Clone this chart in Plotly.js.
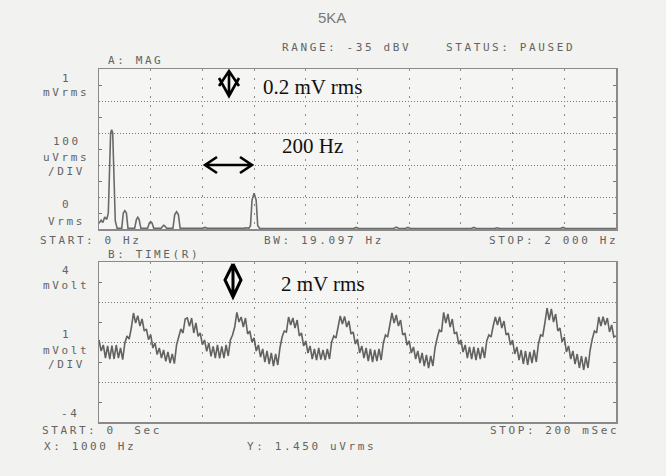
<!DOCTYPE html>
<html><head><meta charset="utf-8">
<script src="https://cdn.plot.ly/plotly-3.0.1.min.js"></script>
<style>
html,body{margin:0;padding:0;background:#f2f2f0;}
#chart{width:666px;height:476px;}
.annotation-text[style*="Mono"]{letter-spacing:2.6px;}
</style></head><body><div id="chart"></div>
<script>
// ---- Spectrum (A: MAG), 0..2000 Hz, mVrms ----
const FREQ_HZ = [0,8,15,22,30,36,45,49,53,63,70,88,94,100,106,112,138,145,150,155,162,188,195,200,205,212,240,246,250,254,262,286,293,300,307,314,400,410,420,560,570,580,586,592,600,608,614,622,985,995,1005,1140,1150,1160,1185,1195,1205,1440,1450,1460,1530,1540,1550,1785,1795,1805,2000];
const MAG_MVRMS = [0.035,0.055,0.040,0.075,0.06,0.10,0.60,0.62,0.60,0.05,0.005,0.005,0.10,0.115,0.10,0.005,0.005,0.06,0.073,0.06,0.005,0.005,0.038,0.046,0.038,0.004,0.004,0.02,0.023,0.02,0.004,0.004,0.09,0.108,0.09,0.004,0.004,0.01,0.004,0.004,0.008,0.005,0.02,0.18,0.223,0.18,0.02,0.003,0.003,0.01,0.003,0.003,0.012,0.003,0.003,0.01,0.003,0.003,0.01,0.003,0.003,0.008,0.003,0.003,0.01,0.003,0.003];

// ---- Time record (B: TIME), 0..200 ms, mVolt ----
const TIME_START_MS = 0;
const TIME_STEP_MS = 0.8333;
const VOLT_MV = [
 0.10,-0.45,-0.15,-0.80,-0.20,-0.85,-0.18,-0.85,-0.15,-0.80,
 -0.30,-0.88,-0.05,0.30,0.15,0.70,1.45,0.95,1.32,0.80,
 1.15,0.55,0.65,0.12,0.37,-0.30,-0.05,-0.63,-0.30,-0.80,
 -0.40,-0.97,-0.50,-1.05,-0.60,-1.08,-0.15,0.20,0.65,0.45,
 1.15,1.20,0.78,1.20,0.45,0.95,0.28,0.45,-0.13,0.10,
 -0.47,-0.05,-0.72,-0.22,-0.80,-0.15,-0.82,-0.22,-0.80,-0.15,
 -0.70,0.10,0.35,0.75,1.48,1.00,1.25,0.75,1.20,0.40,
 0.55,0.00,0.20,-0.45,-0.15,-0.75,-0.35,-1.00,-0.45,-1.10,
 -0.55,-1.20,-0.60,-1.15,-0.30,0.25,0.55,0.50,1.25,0.85,
 1.20,0.70,1.10,0.30,0.45,-0.20,0.05,-0.55,-0.20,-0.85,
 -0.35,-0.90,-0.30,-0.88,-0.40,-0.90,-0.35,-0.85,0.00,0.30,
 0.20,0.75,1.30,0.90,1.28,0.75,1.05,0.40,0.50,-0.10,
 0.15,-0.55,-0.20,-0.80,-0.30,-0.95,-0.35,-1.00,-0.40,-0.95,
 -0.35,-0.90,-0.05,0.35,0.25,0.85,1.45,0.95,1.35,0.80,
 1.10,0.35,0.45,-0.15,0.05,-0.55,-0.25,-0.85,-0.45,-1.05,
 -0.55,-1.20,-0.65,-1.30,-0.70,-1.20,-0.30,0.20,0.60,0.50,
 1.48,0.95,1.40,0.75,1.15,0.40,0.50,-0.10,0.10,-0.50,
 -0.15,-0.80,-0.25,-0.85,-0.25,-0.90,-0.30,-0.85,-0.25,-0.80,
 0.05,0.35,0.25,0.80,1.25,0.85,1.26,0.70,1.05,0.35,
 0.45,-0.15,0.10,-0.60,-0.25,-0.90,-0.40,-1.10,-0.45,-1.15,
 -0.50,-1.05,-0.40,-1.00,-0.10,0.35,0.30,0.95,1.70,1.10,
 1.65,1.00,1.40,0.55,0.70,0.00,0.25,-0.50,-0.20,-0.85,
 -0.45,-1.10,-0.60,-1.30,-0.70,-1.40,-0.75,-1.30,-0.40,0.15,
 0.55,0.45,1.25,0.80,1.26,0.85,1.20,0.50,0.85,0.25,
 0.30];

// ---- Texts ----
const HANDWRITTEN = "5KA";
const HEADER_RANGE = "RANGE: -35 dBV";
const HEADER_STATUS = "STATUS: PAUSED";
const TRACE_A_NAME = "A: MAG";
const TRACE_B_NAME = "B: TIME(R)";
const TOP_Y_LABELS = ["1","mVrms","100","uVrms","/DIV","0","Vrms"];
const BOT_Y_LABELS = ["4","mVolt","1","mVolt","/DIV","-4"];
const TOP_X_FOOT = ["START: 0 Hz","BW: 19.097 Hz","STOP: 2 000 Hz"];
const BOT_X_FOOT = ["START: 0  Sec","STOP: 200 mSec"];
const MARKER_READOUT = ["X: 1000 Hz","Y: 1.450 uVrms"];
const NOTES = ["0.2 mV rms","200 Hz","2 mV rms"];

// ---- Layout geometry (pixels) ----
const W=666,H=476,L=99,R=616,T=69,B=422;
const px = X => (X-L)/(R-L);
const py = Y => (B-Y)/(B-T);

const MONO = {family:'DejaVu Sans Mono', size:11, color:'#636363'};
function mono(text, X, Y, anchor){
  return {text:text, x:px(X), y:py(Y), xref:'paper', yref:'paper', xanchor:anchor||'left',
    yanchor:'middle', align:anchor==='center'?'center':'left', showarrow:false, font:MONO};
}
const SERIF = {family:'Liberation Serif', size:21, color:'#111'};
function serif(text, X, Y){
  return {text:text, x:px(X), y:py(Y), xref:'paper', yref:'paper', xanchor:'left',
    yanchor:'middle', showarrow:false, font:SERIF};
}

const annotations = [
  {text:HANDWRITTEN, x:px(332), y:py(17), xref:'paper', yref:'paper', xanchor:'center', yanchor:'middle',
   showarrow:false, font:{family:'Liberation Sans', size:15, color:'#7a7a7a'}},
  mono(HEADER_RANGE, 280, 47),
  mono(HEADER_STATUS, 444, 47),
  mono(TRACE_A_NAME, 106, 60),
  mono(TOP_Y_LABELS[0], 66, 78, 'center'),
  mono(TOP_Y_LABELS[1], 66, 92, 'center'),
  mono(TOP_Y_LABELS[2], 67, 141, 'center'),
  mono(TOP_Y_LABELS[3], 66, 157, 'center'),
  mono(TOP_Y_LABELS[4], 66, 171, 'center'),
  mono(TOP_Y_LABELS[5], 66, 204, 'center'),
  mono(TOP_Y_LABELS[6], 66, 221, 'center'),
  mono(TOP_X_FOOT[0], 38, 240),
  mono(TOP_X_FOOT[1], 262, 240),
  mono(TOP_X_FOOT[2], 487, 240),
  mono(TRACE_B_NAME, 106, 254),
  mono(BOT_Y_LABELS[0], 66, 270, 'center'),
  mono(BOT_Y_LABELS[1], 66, 285, 'center'),
  mono(BOT_Y_LABELS[2], 66, 334, 'center'),
  mono(BOT_Y_LABELS[3], 66, 350, 'center'),
  mono(BOT_Y_LABELS[4], 66, 364, 'center'),
  mono(BOT_Y_LABELS[5], 70, 413, 'center'),
  mono(BOT_X_FOOT[0], 40, 431),
  mono(BOT_X_FOOT[1], 488, 431),
  mono(MARKER_READOUT[0], 42, 446),
  mono(MARKER_READOUT[1], 245, 446),
  serif(NOTES[0], 261, 87),
  serif(NOTES[1], 280, 146),
  serif(NOTES[2], 279, 284)
];

function P(pts){ return pts.map(p=>p[0]+' '+px(p[1])+' '+py(p[2])).join(' '); }
const ARROW = {color:'#000', width:2.6};
const shapes = [
  // upper vertical double arrow (0.2 mV)
  {type:'path', xref:'paper', yref:'paper', line:ARROW,
   path: P([['M',219,86],['L',229,71],['L',239,86]]) + ' ' + P([['M',219,78],['L',229,96],['L',239,78]]) + ' ' + P([['M',229,71],['L',229,96]])},
  // horizontal double arrow (200 Hz)
  {type:'path', xref:'paper', yref:'paper', line:ARROW,
   path: P([['M',217,157],['L',205,165],['L',217,173]]) + ' ' + P([['M',240,157],['L',252,165],['L',240,173]]) + ' ' + P([['M',205,165],['L',252,165]])},
  // lower vertical double arrow (2 mV)
  {type:'path', xref:'paper', yref:'paper', line:{color:'#000', width:3},
   path: P([['M',233,264],['L',225,280],['L',233,297],['L',241,280],['L',233,264]]) + ' ' + P([['M',233,264],['L',233,297]])}
];

const frame = {showline:true, mirror:'allticks', linecolor:'#8a8a8a', linewidth:1.5, zeroline:false,
  showticklabels:false, ticks:'', fixedrange:true};
const vgrid = {showgrid:true, gridcolor:'#8c8c8c', gridwidth:1, griddash:'2px,7px'};
const hgrid = {showgrid:true, gridcolor:'#7a7a7a', gridwidth:1, griddash:'1px,2px'};

const layout = {
  width:W, height:H,
  margin:{l:L, r:W-R, t:T, b:H-B, pad:0},
  paper_bgcolor:'#f2f2f0', plot_bgcolor:'#f5f5f3',
  showlegend:false,
  xaxis: Object.assign({}, frame, vgrid, {domain:[0,1], range:[0,2000], tick0:0, dtick:200, anchor:'y'}),
  yaxis: Object.assign({}, frame, hgrid, {domain:[py(229),1], range:[0,1], tick0:0, dtick:0.2, anchor:'x',
     minor:{dtick:0.1, ticks:'inside', ticklen:3, tickcolor:'#777', tickwidth:1, showgrid:false}}),
  xaxis2: Object.assign({}, frame, vgrid, {domain:[0,1], range:[0,200], tick0:0, dtick:20, anchor:'y2'}),
  yaxis2: Object.assign({}, frame, hgrid, {domain:[0,py(262)], range:[-4,4], tick0:0, dtick:2, anchor:'x2',
     minor:{dtick:1, ticks:'inside', ticklen:3, tickcolor:'#777', tickwidth:1, showgrid:false}}),
  annotations: annotations,
  shapes: shapes
};

const data = [
  {type:'scatter', mode:'lines', x:FREQ_HZ, y:MAG_MVRMS, xaxis:'x', yaxis:'y',
   line:{color:'#6a6a6a', width:1.6}, hoverinfo:'skip'},
  {type:'scatter', mode:'lines', x0:TIME_START_MS, dx:TIME_STEP_MS, y:VOLT_MV, xaxis:'x2', yaxis:'y2',
   line:{color:'#626262', width:1.6}, hoverinfo:'skip'}
];

Plotly.newPlot('chart', data, layout, {displayModeBar:false, staticPlot:true});
</script></body></html>
